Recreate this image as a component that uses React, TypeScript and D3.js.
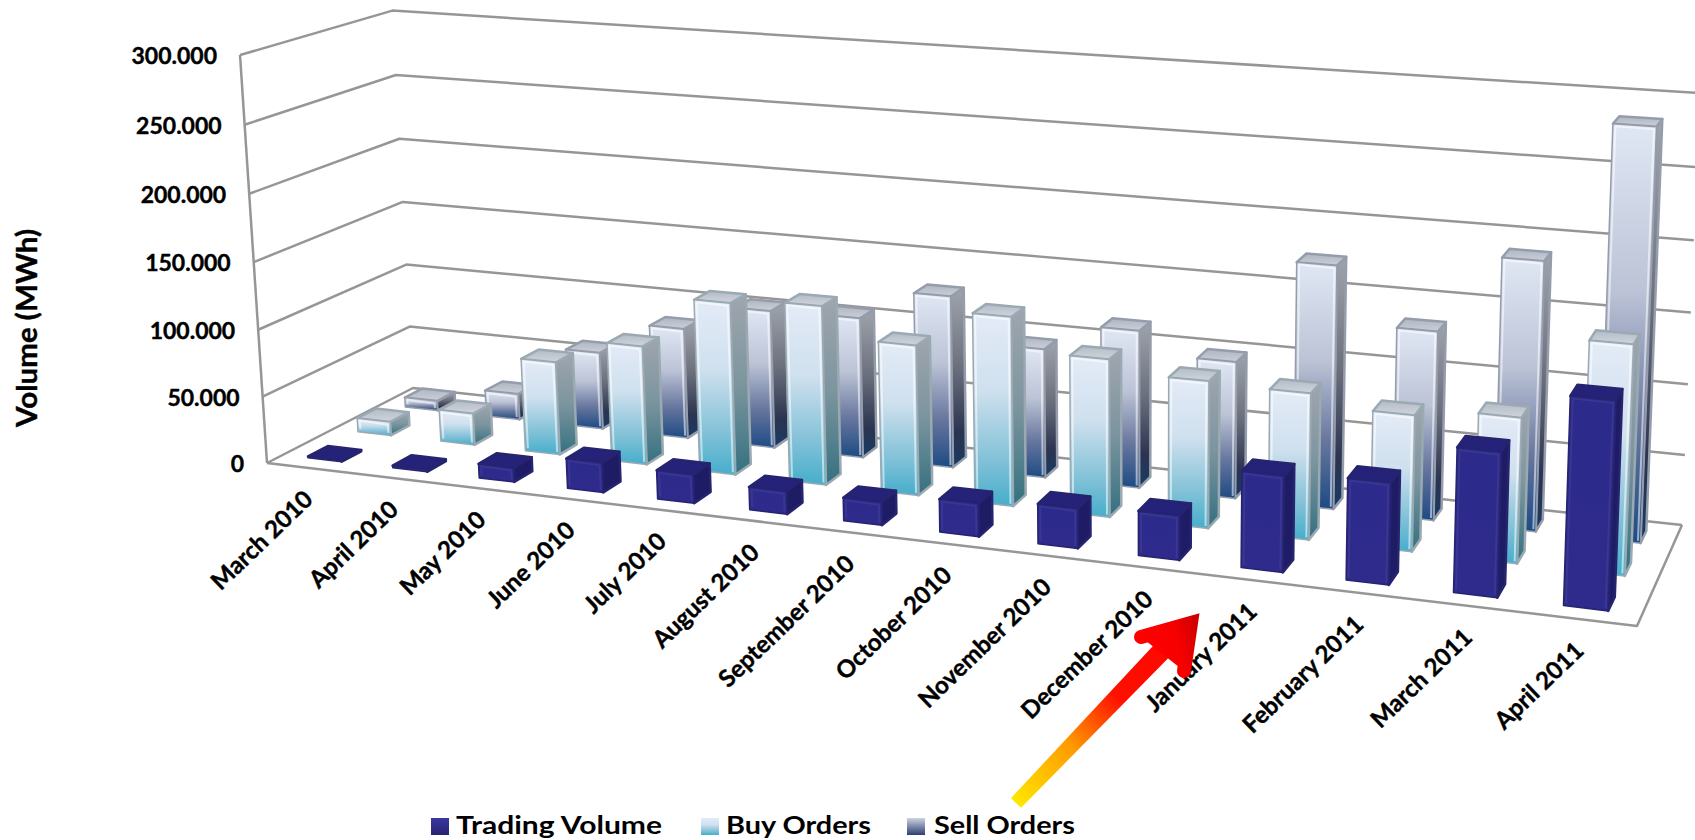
import React from "react";
import * as d3 from "d3";

const months = [
  "March 2010", "April 2010", "May 2010", "June 2010", "July 2010", "August 2010",
  "September 2010", "October 2010", "November 2010", "December 2010",
  "January 2011", "February 2011", "March 2011", "April 2011",
];
const tradingVolume = [1000, 1500, 10500, 22000, 21000, 16500, 16500, 23500, 28000, 31000, 66000, 69000, 97000, 138000];
const buyOrders = [10500, 24000, 70000, 88500, 127000, 131000, 109000, 136000, 112500, 104000, 102500, 94500, 100000, 156000];
const sellOrders = [7500, 20000, 59000, 84000, 104000, 105000, 127500, 95000, 115000, 99000, 174000, 134000, 189000, 285000];
const valueTicks = [0, 50000, 100000, 150000, 200000, 250000, 300000];
const tickText = ["0", "50.000", "100.000", "150.000", "200.000", "250.000", "300.000"];
const seriesNames = ["Trading Volume", "Buy Orders", "Sell Orders"];

const W = 1695;
const H = 840;

// Floor corners of the 3D box in screen space: front-left, front-right, back-right, back-left.
const floor = [[267, 463], [1637, 626], [1682, 525], [413, 388]];
// Vertical vanishing point and perspective weight of the full value height.
const zenith = [1138, 13632];
const heightWeight = -0.03005;

const [[x0, y0], [x1, y1], [x2, y2], [x3, y3]] = floor;
const sx = x0 - x1 + x2 - x3;
const sy = y0 - y1 + y2 - y3;
const dx1 = x1 - x2;
const dx2 = x3 - x2;
const dy1 = y1 - y2;
const dy2 = y3 - y2;
const det = dx1 * dy2 - dx2 * dy1;
const g = (sx * dy2 - dx2 * sy) / det;
const h = (dx1 * sy - sx * dy1) / det;
const a = x1 - x0 + g * x1;
const b = x3 - x0 + h * x3;
const c = y1 - y0 + g * y1;
const e = y3 - y0 + h * y3;

// Projects box coordinates (across, depth, height; each 0..1) onto the screen.
function project(u: number, v: number, t: number): [number, number] {
  const w = g * u + h * v + 1 + t * heightWeight;
  return [
    (a * u + b * v + x0 + t * heightWeight * zenith[0]) / w,
    (c * u + e * v + y0 + t * heightWeight * zenith[1]) / w,
  ];
}

const uScale = d3.scaleBand<string>().domain(months).range([0, 1]).paddingInner(0.6).paddingOuter(0.3);
const vScale = d3.scaleBand<string>().domain(seriesNames).range([0, 1]).paddingInner(0.61).paddingOuter(0.305);
const tScale = d3.scaleLinear().domain([0, 300000]).range([0, 1]);

const poly = (pts: [number, number][]) => pts.map((p) => p.map((n) => n.toFixed(1)).join(",")).join(" ");
const line2 = d3.line();

type Palette = { front: string; side: string; top: string; edge: string; glow: number };
const palettes: Palette[] = [
  { front: "url(#tradeFront)", side: "#1f1c66", top: "#25227a", edge: "#26236f", glow: 0.06 },
  { front: "url(#buyFront)", side: "url(#buySide)", top: "url(#buyTop)", edge: "#9aa9b2", glow: 0.55 },
  { front: "url(#sellFront)", side: "url(#sellSide)", top: "url(#sellTop)", edge: "#959cab", glow: 0.55 },
];

function Bar({ month, row, value }: { month: string; row: number; value: number }) {
  const u0 = uScale(month)!;
  const u1 = u0 + uScale.bandwidth();
  const v0 = vScale(seriesNames[row])!;
  const v1 = v0 + vScale.bandwidth();
  const t = tScale(value);
  const pal = palettes[row];
  const frontFace = [project(u0, v0, 0), project(u1, v0, 0), project(u1, v0, t), project(u0, v0, t)];
  const sideFace = [project(u1, v0, 0), project(u1, v1, 0), project(u1, v1, t), project(u1, v0, t)];
  const topFace = [project(u0, v0, t), project(u1, v0, t), project(u1, v1, t), project(u0, v1, t)];
  const inset = 2.5;
  const [fl, fr, tr, tl] = frontFace;
  const rim: [number, number][] = [
    [fl[0] + inset, fl[1] - inset],
    [tl[0] + inset, tl[1] + inset],
    [tr[0] - inset, tr[1] + inset],
    [fr[0] - inset, fr[1] - inset],
  ];
  const tall = tl[1] < fl[1] - 8;
  return (
    <g strokeLinejoin="round">
      <polygon points={poly(sideFace)} fill={pal.side} stroke={pal.edge} strokeWidth={2.5} />
      <polygon points={poly(topFace)} fill={pal.top} stroke={pal.edge} strokeWidth={2.5} />
      <polygon points={poly(frontFace)} fill={pal.front} stroke={pal.edge} strokeWidth={1.5} />
      {tall && <path d={line2(rim) ?? ""} fill="none" stroke="#fff" strokeOpacity={pal.glow} strokeWidth={2} />}
    </g>
  );
}

function Gradient({ id, stops }: { id: string; stops: [number, string][] }) {
  return (
    <linearGradient id={id} x1="0" y1="0" x2="0" y2="1">
      {stops.map(([o, col]) => (
        <stop key={o} offset={o} stopColor={col} />
      ))}
    </linearGradient>
  );
}

// The rising-trend arrow laid over the plot.
const arrowTail = [1016, 803];
const arrowTip = [1200, 611];
const arrowBarbs = [[1141, 637], [1184, 671]];

function TrendArrow() {
  const dx = arrowTip[0] - arrowTail[0];
  const dy = arrowTip[1] - arrowTail[1];
  const len = Math.hypot(dx, dy);
  const nx = -dy / len;
  const ny = dx / len;
  const neck = [arrowTip[0] - dx * 0.12, arrowTip[1] - dy * 0.12];
  const shaft: [number, number][] = [
    [arrowTail[0] + nx * 7, arrowTail[1] + ny * 7],
    [neck[0] + nx * 10, neck[1] + ny * 10],
    [neck[0] - nx * 10, neck[1] - ny * 10],
    [arrowTail[0] - nx * 7, arrowTail[1] - ny * 7],
  ];
  const head = `M${arrowBarbs[0][0]},${arrowBarbs[0][1]} L${arrowTip[0] - 9},${arrowTip[1] + 12} L${arrowBarbs[1][0]},${arrowBarbs[1][1]}`;
  return (
    <g>
      <polygon points={poly(shaft)} fill="url(#arrowFill)" />
      <path d={head} fill="url(#arrowHead)" stroke="url(#arrowHead)" strokeWidth={14} strokeLinecap="round" strokeLinejoin="miter" strokeMiterlimit={8} />
    </g>
  );
}

const legendSwatches = [431, 701, 907];
const legendTextX = [456, 726, 934];
const legendTextW = [206, 145, 141];
const legendFills = ["url(#tradeSwatch)", "url(#buyFront)", "url(#sellSwatch)"];

export default function App() {
  const series = [sellOrders, buyOrders, tradingVolume];
  const rowOf = [2, 1, 0];
  return (
    <svg
      width={W}
      height={H}
      viewBox={`0 0 ${W} ${H}`}
      style={{ position: "absolute", left: 0, top: 0, background: "#fff", display: "block" }}
      fontFamily="Lato, 'Open Sans', sans-serif"
      fontWeight={700}
    >
      <defs>
        <Gradient id="tradeFront" stops={[[0, "#2c2a8a"], [1, "#2e2b8c"]]} />
        <Gradient id="buyFront" stops={[[0, "#e4ebf7"], [0.4, "#cfe0ee"], [0.75, "#84c2d8"], [1, "#45aecb"]]} />
        <Gradient id="buySide" stops={[[0, "#a0a5ae"], [0.5, "#7c959f"], [1, "#34707f"]]} />
        <Gradient id="buyTop" stops={[[0, "#b4bbc5"], [1, "#cfd5dd"]]} />
        <Gradient id="sellFront" stops={[[0, "#e0e7f4"], [0.4, "#bcc3d6"], [0.72, "#68779e"], [1, "#1d4a84"]]} />
        <Gradient id="sellSide" stops={[[0, "#a0a4ac"], [0.45, "#6b6f7c"], [0.8, "#2b3450"], [1, "#183a63"]]} />
        <Gradient id="sellTop" stops={[[0, "#afb5c0"], [1, "#cbd0d9"]]} />
        <Gradient id="tradeSwatch" stops={[[0, "#3a38a0"], [1, "#27246f"]]} />
        <Gradient id="sellSwatch" stops={[[0, "#cdd3e2"], [1, "#2b4170"]]} />
        <linearGradient id="arrowFill" gradientUnits="userSpaceOnUse" x1={arrowTail[0]} y1={arrowTail[1]} x2={arrowTip[0]} y2={arrowTip[1]}>
          <stop offset={0} stopColor="#ffe600" />
          <stop offset={0.3} stopColor="#ff9a00" />
          <stop offset={0.55} stopColor="#ff1000" />
          <stop offset={1} stopColor="#ff0000" />
        </linearGradient>
        <linearGradient id="arrowHead" gradientUnits="userSpaceOnUse" x1={1130} y1={650} x2={1200} y2={630}>
          <stop offset={0} stopColor="#ff0000" />
          <stop offset={0.65} stopColor="#f80000" />
          <stop offset={1} stopColor="#cc0000" />
        </linearGradient>
      </defs>

      <g fill="none" stroke="#969696" strokeWidth={2.5} strokeLinejoin="round">
        {valueTicks.map((tick) => {
          const t = tScale(tick);
          return (
            <path key={tick} d={line2([project(0, 0, t), project(0, 1, t), project(1, 1, t)]) ?? ""} />
          );
        })}
        <path d={line2([project(0, 0, 0), project(0, 0, 1)]) ?? ""} />
        <path d={line2([project(0, 0, 0), project(1, 0, 0), project(1, 1, 0)]) ?? ""} />
      </g>

      {series.map((values, s) =>
        months.map((m, i) => <Bar key={`${s}-${m}`} month={m} row={rowOf[s]} value={values[i]} />),
      )}

      <g fontSize={23} fill="#000" stroke="#000" strokeWidth={0.4}>
        {valueTicks.map((tick, i) => {
          const [px, py] = project(0, 0, tScale(tick));
          return (
            <text key={tick} x={px - 23} y={py + 3} textAnchor="end" dominantBaseline="middle">
              {tickText[i]}
            </text>
          );
        })}
      </g>

      <text
        transform="translate(30,328) rotate(-90)"
        textAnchor="middle"
        dominantBaseline="middle"
        fontSize={28}
        fill="#000"
        stroke="#000"
        strokeWidth={0.4}
        textLength={198}
        lengthAdjust="spacingAndGlyphs"
      >
        Volume (MWh)
      </text>

      <g fontSize={24} fill="#000" stroke="#000" strokeWidth={0.4}>
        {months.map((m) => {
          const uc = uScale(m)! + uScale.bandwidth() / 2;
          const [px, py] = project(uc, 0, 0);
          return (
            <text key={m} textAnchor="end" transform={`translate(${(px + 5).toFixed(1)},${(py + 33).toFixed(1)}) rotate(-44)`}>
              {m}
            </text>
          );
        })}
      </g>

      <TrendArrow />

      <g fontSize={25} fill="#000">
        {seriesNames.map((name, i) => (
          <g key={name}>
            <rect x={legendSwatches[i]} y={818} width={18} height={17} fill={legendFills[i]} />
            <text x={legendTextX[i]} y={834} textLength={legendTextW[i]} lengthAdjust="spacingAndGlyphs">
              {name}
            </text>
          </g>
        ))}
      </g>
    </svg>
  );
}
